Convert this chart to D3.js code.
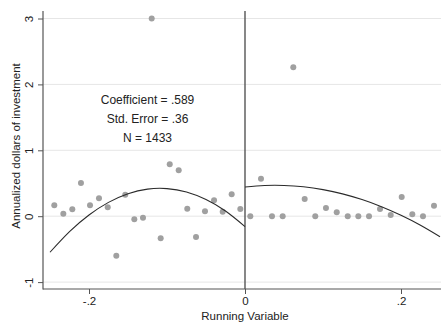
<!DOCTYPE html>
<html>
<head>
<meta charset="utf-8">
<script src="https://cdn.jsdelivr.net/npm/d3@7"></script>
<style>
  html, body { margin: 0; padding: 0; background: #fff; }
  svg { display: block; font-family: "Liberation Sans", Arial, sans-serif; }
</style>
</head>
<body>
<svg id="chart" width="441" height="322"></svg>
<script>
// Binned means (running variable, annualized dollars)
const binX = [-0.2445, -0.2329, -0.2214, -0.2103, -0.1987, -0.1872, -0.1760, -0.1650, -0.1535, -0.1419,
              -0.1308, -0.1196, -0.1081, -0.0965, -0.0850, -0.0740, -0.0628, -0.0513, -0.0397, -0.0286,
              -0.0171, -0.0060,
              0.0068, 0.0205, 0.0346, 0.0483, 0.0619, 0.0765, 0.0901, 0.1038, 0.1176, 0.1317,
              0.1453, 0.1590, 0.1731, 0.1868, 0.2009, 0.2145, 0.2282, 0.2423];
const binY = [0.165, 0.038, 0.105, 0.504, 0.165, 0.272, 0.135, -0.600, 0.326, -0.047,
              -0.023, 3.000, -0.335, 0.788, 0.697, 0.114, -0.316, 0.074, 0.241, 0.068,
              0.332, 0.109,
              0.000, 0.569, 0.000, 0.000, 2.260, 0.261, 0.000, 0.124, 0.059, 0.000,
              0.000, 0.000, 0.109, 0.018, 0.291, 0.029, 0.000, 0.159];

// Fitted quadratic curves
const fitLeftX  = [-0.25, -0.225, -0.2, -0.175, -0.15, -0.125, -0.1, -0.075, -0.05, -0.025, 0];
const fitLeftY  = [-0.547, -0.234, 0.019, 0.210, 0.341, 0.411, 0.419, 0.367, 0.253, 0.079, -0.157];
const fitRightX = [0, 0.025, 0.05, 0.075, 0.1, 0.125, 0.15, 0.175, 0.2, 0.225, 0.25];
const fitRightY = [0.443, 0.466, 0.467, 0.446, 0.403, 0.339, 0.252, 0.144, 0.014, -0.137, -0.311];

const xTicks = [-0.2, 0, 0.2];
const xTickLabels = ["-.2", "0", ".2"];
const yTicks = [-1, 0, 1, 2, 3];
const yTickLabels = ["-1", "0", "1", "2", "3"];
const annotations = ["Coefficient = .589", "Std. Error = .36", "N = 1433"];
const xTitle = "Running Variable";
const yTitle = "Annualized dollars of investment";

const svg = d3.select("#chart");
const plotLeft = 43, plotRight = 441, plotTop = 11, plotBottom = 289;

const x = d3.scaleLinear().domain([-0.2, 0.2]).range([89, 401]);
const y = d3.scaleLinear().domain([-1, 3]).range([282.1, 18.5]);

// grid lines
svg.append("g").selectAll("line").data(yTicks).join("line")
  .attr("x1", plotLeft).attr("x2", plotRight)
  .attr("y1", d => y(d)).attr("y2", d => y(d))
  .attr("stroke", "#e6e6e6").attr("stroke-width", 1);

// y axis
const yAxis = d3.axisLeft(y).tickValues(yTicks).tickSize(5).tickPadding(5)
  .tickFormat((d, i) => yTickLabels[i]);
const gy = svg.append("g").attr("transform", `translate(${plotLeft},0)`).call(yAxis);
gy.select(".domain").remove();
gy.selectAll(".tick line").attr("stroke", "#555");
gy.selectAll(".tick text")
  .attr("transform", "rotate(-90)")
  .attr("x", 0).attr("y", -10)
  .attr("dy", "0")
  .attr("text-anchor", "middle")
  .attr("font-size", 11.5).attr("fill", "#222");
svg.append("line").attr("x1", plotLeft).attr("x2", plotLeft)
  .attr("y1", plotTop).attr("y2", plotBottom + 0.5)
  .attr("stroke", "#555").attr("stroke-width", 1.2);

// x axis
const xAxis = d3.axisBottom(x).tickValues(xTicks).tickSize(5).tickPadding(3)
  .tickFormat((d, i) => xTickLabels[i]);
const gx = svg.append("g").attr("transform", `translate(0,${plotBottom})`).call(xAxis);
gx.select(".domain").remove();
gx.selectAll(".tick line").attr("stroke", "#555");
gx.selectAll(".tick text").attr("font-size", 11.5).attr("fill", "#222");
svg.append("line").attr("x1", plotLeft).attr("x2", plotRight)
  .attr("y1", plotBottom).attr("y2", plotBottom)
  .attr("stroke", "#555").attr("stroke-width", 1.2);

// cutoff line
svg.append("line").attr("x1", x(0)).attr("x2", x(0))
  .attr("y1", plotTop).attr("y2", plotBottom)
  .attr("stroke", "#555").attr("stroke-width", 1.4);

// points
svg.append("g").selectAll("circle").data(binX).join("circle")
  .attr("cx", d => x(d)).attr("cy", (d, i) => y(binY[i]))
  .attr("r", 3).attr("fill", "#a0a0a0");

// fitted lines
const line = d3.line().x(d => x(d[0])).y(d => y(d[1])).curve(d3.curveNatural);
svg.append("path").datum(fitLeftX.map((d, i) => [d, fitLeftY[i]]))
  .attr("d", line).attr("fill", "none").attr("stroke", "#2b2b2b").attr("stroke-width", 1.1);
svg.append("path").datum(fitRightX.map((d, i) => [d, fitRightY[i]]))
  .attr("d", line).attr("fill", "none").attr("stroke", "#2b2b2b").attr("stroke-width", 1.1);

// annotations
svg.append("g").selectAll("text").data(annotations).join("text")
  .attr("x", 147.5).attr("y", (d, i) => 103.5 + i * 19)
  .attr("text-anchor", "middle").attr("font-size", 12).attr("fill", "#222")
  .text(d => d);

// titles
svg.append("text").attr("x", 245).attr("y", 320)
  .attr("text-anchor", "middle").attr("font-size", 11.5).attr("fill", "#222")
  .text(xTitle);
svg.append("text").attr("transform", "translate(20,146) rotate(-90)")
  .attr("text-anchor", "middle").attr("font-size", 11.5).attr("fill", "#222")
  .text(yTitle);
</script>
</body>
</html>
